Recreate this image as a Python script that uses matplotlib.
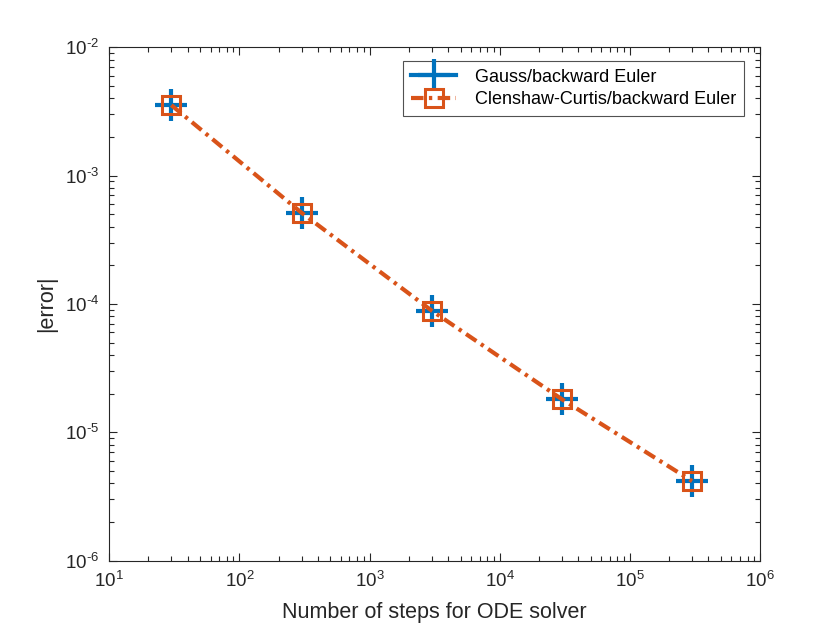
import matplotlib
matplotlib.use('Agg')
import matplotlib.pyplot as plt
from matplotlib.lines import Line2D
from matplotlib.ticker import LogLocator, FixedLocator, FuncFormatter
import numpy as np

# data
steps = [30, 300, 3000, 30000, 300000]
err_gauss = [3.54e-3, 5.14e-4, 8.87e-5, 1.81e-5, 4.17e-6]
err_cc = [3.54e-3, 5.14e-4, 8.87e-5, 1.81e-5, 4.17e-6]
labels = ['Gauss/backward Euler', 'Clenshaw-Curtis/backward Euler']

blue = '#0072BD'
orange = '#D95319'
axcol = '#262626'
dashdot = (0, (3.0, 1.3, 0.8, 1.3))

plt.rcParams['font.family'] = ['Liberation Sans', 'DejaVu Sans']
plt.rcParams['mathtext.fontset'] = 'custom'
plt.rcParams['mathtext.rm'] = 'Liberation Sans'
plt.rcParams['mathtext.it'] = 'Liberation Sans'

fig = plt.figure(figsize=(8.4, 6.3), dpi=100)
ax = fig.add_axes([0.13, 0.11, 0.775, 0.815])

ax.plot(steps, err_gauss, linestyle='none', marker='+', color=blue,
        markersize=23, markeredgewidth=3)
ax.plot(steps, err_cc, linestyle=dashdot, color=orange,
        linewidth=3, marker='s', markersize=12.5, markerfacecolor='none',
        markeredgewidth=2.2)

ax.set_xscale('log')
ax.set_yscale('log')
ax.set_xlim(1e1, 1e6)
ax.set_ylim(1e-6, 1e-2)

def fmt(v, pos):
    # matlab style: hyphen instead of a long minus in the exponent
    e = int(round(np.log10(v)))
    if e < 0:
        return r'$\mathregular{10^{\text{-}%d}}$' % (-e)
    return r'$\mathregular{10^{%d}}$' % e

ax.xaxis.set_major_locator(FixedLocator([10.0 ** k for k in range(1, 7)]))
ax.yaxis.set_major_locator(FixedLocator([10.0 ** k for k in range(-6, -1)]))
ax.xaxis.set_major_formatter(FuncFormatter(fmt))
ax.yaxis.set_major_formatter(FuncFormatter(fmt))
ax.xaxis.set_minor_locator(LogLocator(base=10, subs=np.arange(2, 10), numticks=20))
ax.yaxis.set_minor_locator(LogLocator(base=10, subs=np.arange(2, 10), numticks=20))

ax.tick_params(which='both', direction='in', top=True, right=True,
               color=axcol, width=0.8, labelcolor=axcol, labelsize=13.5)
ax.tick_params(which='major', length=6, pad=7)
ax.tick_params(which='minor', length=3.5)
for s in ax.spines.values():
    s.set_color(axcol)
    s.set_linewidth(0.8)

ax.set_xlabel('Number of steps for ODE solver', fontsize=15.5, color=axcol,
              labelpad=8)
ax.set_ylabel('|error|', fontsize=15.5, color=axcol, labelpad=6)

h1 = Line2D([], [], color=blue, linewidth=3, marker='+', markersize=23,
            markeredgewidth=3)
h2 = Line2D([], [], color=orange, linewidth=3, linestyle=dashdot,
            marker='s', markersize=12.5, markerfacecolor='none', markeredgewidth=2.2)
leg = ax.legend([h1, h2], labels, loc='upper right', bbox_to_anchor=(0.975, 0.973),
                fontsize=13, frameon=True, fancybox=False, handlelength=2.5,
                handletextpad=1.05, borderpad=0.42, labelspacing=0.32,
                borderaxespad=0)
leg.get_frame().set_edgecolor(axcol)
leg.get_frame().set_linewidth(0.8)

fig.savefig('out.png', dpi=100)
